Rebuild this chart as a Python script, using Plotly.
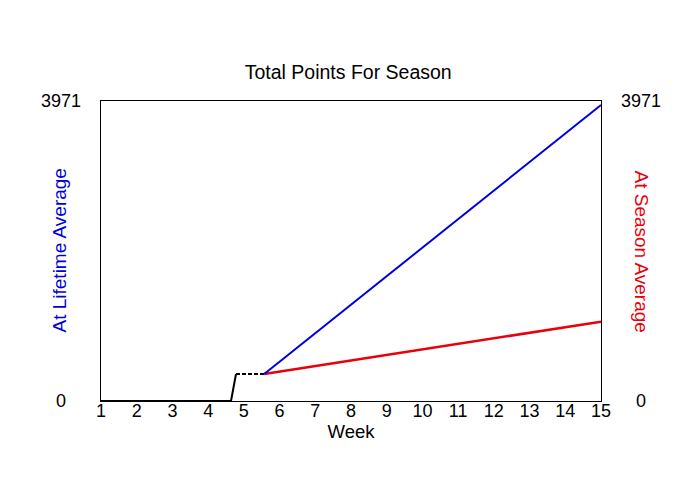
import plotly.graph_objects as go

# weeks / values
actual_weeks = [1, 2, 3, 4, 4.64, 4.78]
actual_points = [0, 0, 0, 0, 0, 357]

flat_weeks = [4.78, 5.57]
flat_points = [357, 357]

proj_weeks = [5.57, 6, 7, 8, 9, 10, 11, 12, 13, 14, 15]
lifetime_points = [357, 519, 897, 1275, 1652, 2030, 2407, 2785, 3163, 3540, 3918]
season_points = [357, 389, 462, 536, 609, 683, 756, 830, 903, 977, 1050]

y_max = 3971
week_ticks = list(range(1, 16))

FONT = "Liberation Sans, Arial, sans-serif"

fig = go.Figure()
fig.add_trace(go.Scatter(x=proj_weeks, y=season_points, mode="lines",
                         line=dict(color="#e8000b", width=2.5)))
fig.add_trace(go.Scatter(x=proj_weeks, y=lifetime_points, mode="lines",
                         line=dict(color="#0000dd", width=2)))
fig.add_trace(go.Scatter(x=actual_weeks, y=actual_points, mode="lines",
                         line=dict(color="black", width=2)))
fig.add_trace(go.Scatter(x=flat_weeks, y=flat_points, mode="lines",
                         line=dict(color="black", width=2, dash="4px,2px")))

# page renders ~7px down/right, so margins are nudged to compensate
fig.update_layout(
    width=700, height=500,
    margin=dict(l=93, r=107, t=93, b=107),
    paper_bgcolor="white", plot_bgcolor="white",
    showlegend=False,
    font=dict(family=FONT, size=16, color="black"),
    title=dict(text="Total Points For Season", x=0.486, xanchor="center",
               y=0.872, yanchor="middle", font=dict(size=19.5)),
    xaxis=dict(range=[1, 15], tickvals=week_ticks, showgrid=False, zeroline=False,
               showline=True, linecolor="black", linewidth=1, mirror=True,
               ticks="", ticklen=0, tickfont=dict(size=18), ticklabelstandoff=-7,
               title=dict(text="Week", font=dict(size=18.5), standoff=0)),
    yaxis=dict(range=[0, y_max], showgrid=False, zeroline=False,
               showline=True, linecolor="black", linewidth=1, mirror=True,
               showticklabels=False, ticks=""),
)

# y tick labels, both sides
for side_x in (-0.08, 1.08):
    for val in (0, y_max):
        fig.add_annotation(x=side_x, y=val, xref="paper", yref="y", text=str(val),
                           showarrow=False, xanchor="center", yanchor="middle",
                           font=dict(size=18))

fig.add_annotation(x=-0.11, y=0.5, xref="paper", yref="paper", text="At Lifetime Average",
                   showarrow=False, textangle=-90, font=dict(size=19, color="#0000dd"))
fig.add_annotation(x=1.106, y=0.5, xref="paper", yref="paper", text="At Season Average",
                   showarrow=False, textangle=90, font=dict(size=19, color="#e8000b"))

fig.write_html("out.html")
